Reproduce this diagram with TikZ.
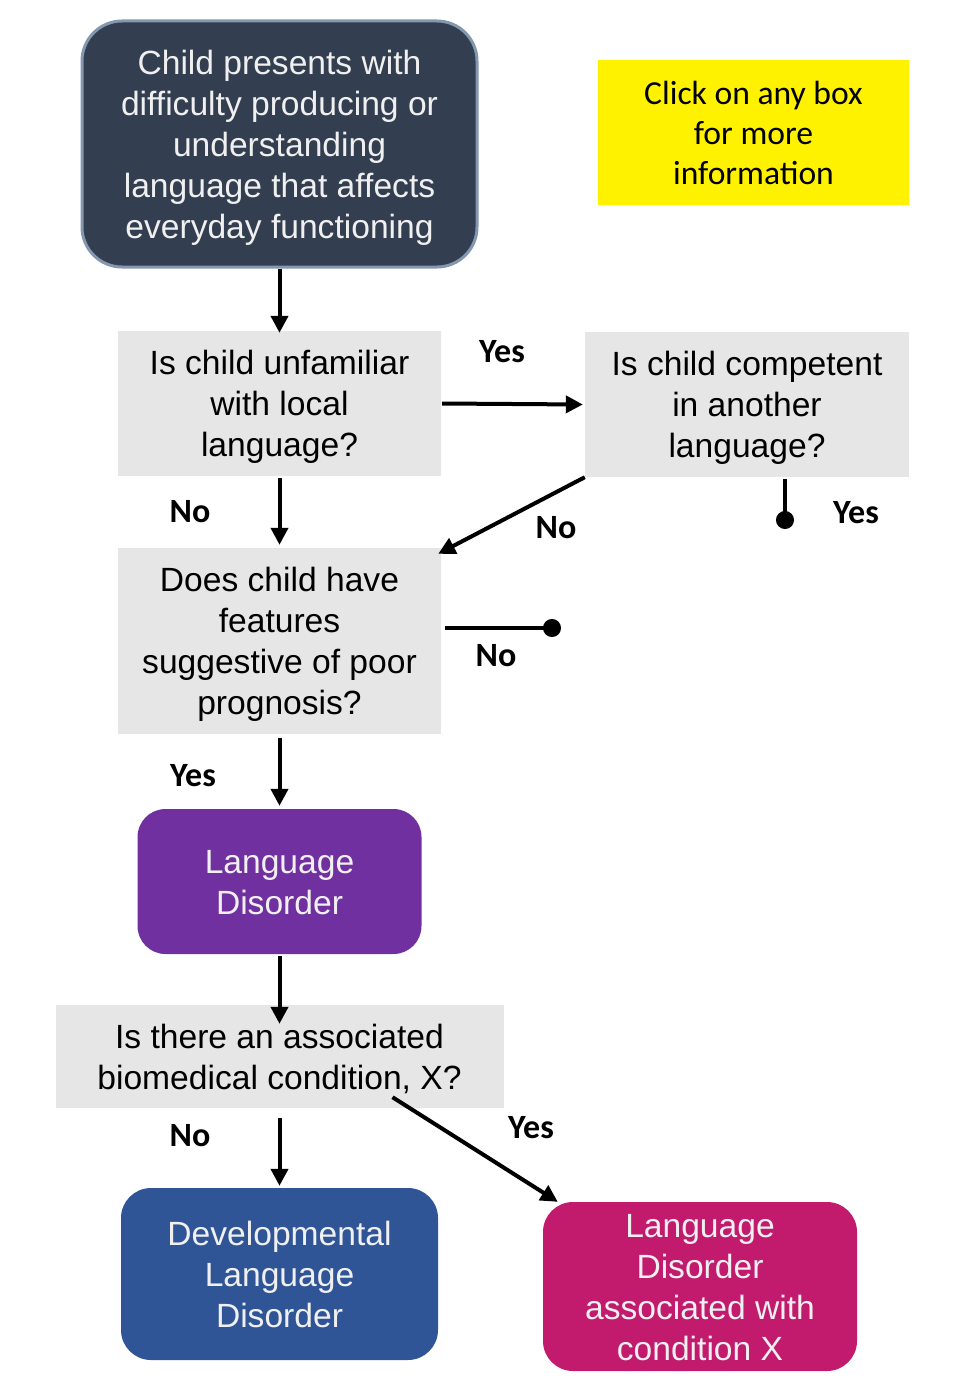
\documentclass[tikz,border=0pt]{standalone}
\usepackage{fontspec}
\setmainfont{Liberation Sans}
\newfontfamily\calibri{Carlito}
\usetikzlibrary{arrows.meta}
\definecolor{navy}{HTML}{333F50}
\definecolor{navyedge}{HTML}{8497B0}
\definecolor{qgrey}{HTML}{E7E6E6}
\definecolor{purpleld}{HTML}{7030A0}
\definecolor{bluedld}{HTML}{2F5597}
\definecolor{magentaldx}{HTML}{C21A6D}
\definecolor{offwhite}{HTML}{F0F0F0}
\newcommand{\topline}{\rule{0pt}{32pt}}
\begin{document}
\begin{tikzpicture}[x=1pt,y=-1pt,
    box/.style={align=center, inner sep=0pt, font=\fontsize{33.6}{41}\selectfont,
      execute at end node={\rule[-8pt]{0pt}{8pt}}},
    question/.style={box, fill=qgrey},
    outcome/.style={box, rounded corners=30pt, text=offwhite},
    arr/.style={line width=4pt, -{Triangle[length=17pt,width=17pt]}},
    stub/.style={line width=4pt, -{Circle[length=18pt]}},
    answer/.style={font=\calibri\bfseries\fontsize{34}{40}\selectfont}]
  \useasboundingbox (0,0) rectangle (960,1397);

  % boxes
  \node[box, fill=navy, draw=navyedge, line width=3pt, rounded corners=40pt, text=offwhite,
        minimum width=395pt, minimum height=246pt] (start) at (279.5,144)
        {\topline Child presents with\\difficulty producing or\\understanding\\language that affects\\everyday functioning};
  \node[fill=yellow, align=center, inner sep=0pt, minimum width=311pt, minimum height=145pt,
        font=\calibri\fontsize{33.6}{40}\selectfont] (note) at (753.5,132.5)
        {Click on any box\\for more\\information};
  \node[question, minimum width=323pt, minimum height=145pt] (unfam) at (279.5,403.5)
        {\topline Is child unfamiliar\\with local\\language?};
  \node[question, minimum width=324pt, minimum height=145pt] (compet) at (747,404.5)
        {\topline Is child competent\\in another\\language?};
  \node[question, minimum width=323pt, minimum height=186pt] (progn) at (279.5,641)
        {\topline Does child have\\features\\suggestive of poor\\prognosis?};
  \node[outcome, fill=purpleld, rounded corners=28pt, minimum width=284pt, minimum height=145pt] (ld) at (279.5,881.5)
        {\topline Language\\Disorder};
  \node[question, minimum width=448pt, minimum height=103pt] (biomed) at (279.5,1056.5)
        {\topline Is there an associated\\biomedical condition, X?};
  \node[outcome, fill=bluedld, minimum width=317pt, minimum height=172pt] (dld) at (279.5,1274)
        {\topline Developmental\\Language\\Disorder};
  \node[outcome, fill=magentaldx, minimum width=314pt, minimum height=169pt] (ldx) at (700,1286.5)
        {\topline Language\\Disorder\\associated with\\condition X};

  % connectors
  \draw[arr] (start.south) -- ([yshift=-2]unfam.north);
  \draw[arr] ([xshift=1]unfam.east) -- ([xshift=-2]compet.west);
  \draw[arr] ([yshift=-2]unfam.south) -- ([yshift=3]progn.north);
  \draw[arr] (compet.south west) -- ([shift={(-3,6)}]progn.north east);
  \draw[arr] ([yshift=-4]progn.south) -- ([yshift=3]ld.north);
  \draw[arr] ([yshift=-2]ld.south) -- ([yshift=-19]biomed.north);
  \draw[arr] ([yshift=-10]biomed.south) -- ([yshift=2]dld.north);
  \draw[arr] ([shift={(113,-11)}]biomed.south) -- ([xshift=15]ldx.north west);
  \coordinate (compyes) at (785,529);
  \coordinate (prognno) at (561,628);
  \draw[stub] ([yshift=-2]compet.south -| compyes) -- (compyes);
  \draw[stub] ([xshift=4]progn.east |- prognno) -- (prognno);

  % answers
  \node[answer] (a1) at (502,352) {Yes};
  \node[answer] (a2) at (190,512) {No};
  \node[answer] (a3) at (556,528) {No};
  \node[answer] (a4) at (856,513) {Yes};
  \node[answer] (a5) at (496,656) {No};
  \node[answer] (a6) at (193,776) {Yes};
  \node[answer] (a7) at (190,1136) {No};
  \node[answer] (a8) at (531,1128) {Yes};
\end{tikzpicture}
\end{document}
